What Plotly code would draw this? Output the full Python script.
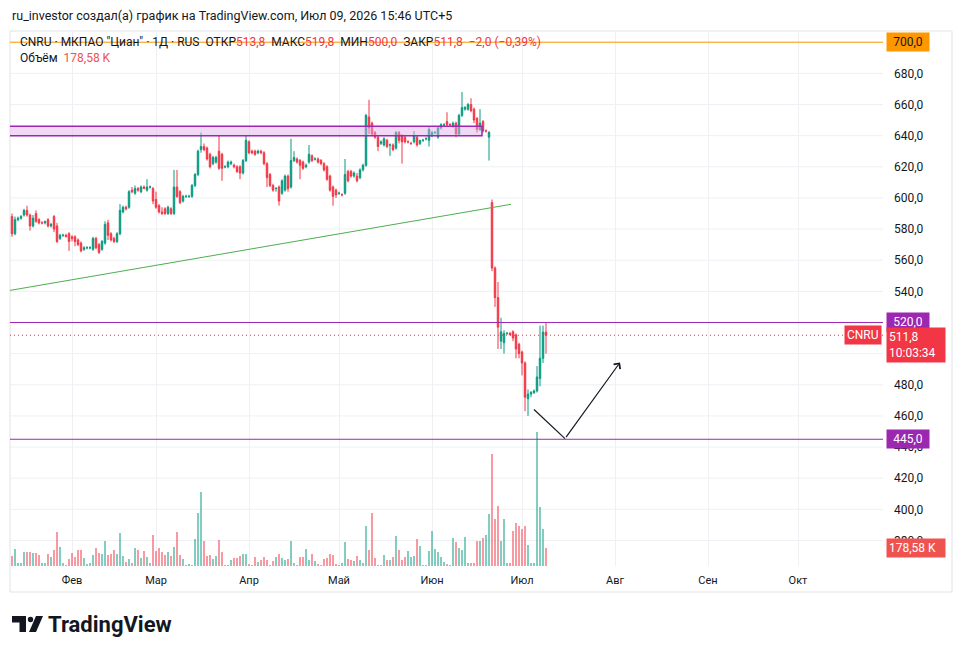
import plotly.graph_objects as go
import pandas as pd

# ---------------- data ----------------
dates = pd.date_range("2026-01-12", "2026-07-09", freq="D")

open_ = [
    588, 577, 586, 587, 589, 592, 589,
    582, 590, 586, 584, 584, 586, 582,
    588, 582, 574, 576, 576, 577, 575,
    575, 573, 571, 567, 568, 568, 567,
    574, 570, 567, 571, 584, 577, 574,
    572, 577, 591, 594, 594, 605, 603,
    606, 604, 607, 605, 607, 606, 599,
    595, 591, 593, 590, 593, 590, 607,
    604, 598, 601, 601, 601, 608, 615,
    631, 633, 632, 628, 622, 623, 630,
    628, 620, 620, 622, 621, 620, 620,
    616, 624, 636, 630, 630, 629, 630,
    629, 622, 615, 608, 606, 607, 603,
    605, 614, 607, 624, 625, 624, 623,
    620, 623, 627, 625, 625, 624, 622,
    620, 614, 607, 605, 603, 602, 603,
    617, 617, 614, 614, 613, 618, 621,
    652, 648, 642, 639, 635, 634, 637,
    634, 634, 632, 642, 640, 639, 636,
    635, 636, 639, 635, 637, 638, 637,
    640, 642, 639, 645, 647, 649, 647,
    646, 648, 641, 653, 657, 657, 660,
    657, 651, 644, 649, 643, 639, 597,
    555, 536, 508, 507, 513, 513, 514,
    512, 506, 501, 494, 471, 474, 475,
    476, 484, 497, 513.8,
]
high = [
    590, 588, 588, 589, 593, 595, 590,
    589, 592, 587, 585, 585, 587, 584,
    589, 584, 577, 577, 577, 578, 576,
    576, 574, 572, 569, 569, 569, 575,
    575, 571, 573, 585, 586, 578, 575,
    578, 596, 595, 595, 605, 607, 608,
    607, 608, 608, 612, 608, 607, 604,
    596, 594, 594, 595, 594, 618, 618,
    605, 602, 602, 602, 609, 616, 631,
    642, 635, 633, 629, 627, 627, 640,
    629, 621, 624, 624, 622, 621, 621,
    625, 640, 637, 631, 631, 631, 631,
    630, 623, 616, 609, 607, 608, 612,
    615, 615, 638, 630, 626, 625, 624,
    622, 634, 628, 626, 626, 625, 623,
    621, 615, 608, 606, 604, 603, 625,
    618, 618, 617, 616, 619, 622, 654,
    663, 649, 643, 640, 637, 639, 638,
    635, 635, 643, 643, 641, 640, 637,
    636, 643, 640, 637, 638, 639, 646,
    643, 643, 646, 648, 648, 655, 648,
    649, 649, 654, 668, 659, 661, 664,
    658, 652, 657, 650, 644, 643, 599,
    556, 546, 523, 515, 514, 514, 515,
    513, 507, 502, 495, 477, 476, 477,
    492, 518, 518, 519.8,
]
low = [
    575, 576, 585, 586, 588, 588, 579,
    581, 584, 583, 583, 583, 581, 581,
    578, 571, 573, 575, 575, 566, 572,
    569, 569, 565, 566, 567, 567, 566,
    567, 564, 566, 570, 573, 572, 571,
    571, 576, 590, 592, 593, 603, 602,
    604, 603, 606, 604, 606, 596, 593,
    590, 589, 589, 589, 589, 589, 600,
    596, 597, 600, 600, 600, 607, 614,
    629, 630, 624, 619, 621, 622, 618,
    611, 619, 619, 621, 619, 616, 612,
    615, 623, 628, 628, 627, 628, 628,
    621, 607, 607, 604, 604, 595, 602,
    604, 604, 606, 623, 622, 612, 618,
    619, 622, 623, 624, 622, 621, 617,
    611, 604, 595, 600, 602, 601, 602,
    610, 613, 613, 610, 612, 617, 620,
    641, 640, 638, 630, 634, 633, 632,
    627, 630, 631, 635, 622, 635, 635,
    634, 635, 633, 634, 636, 637, 633,
    639, 641, 638, 644, 646, 646, 646,
    645, 639, 640, 652, 656, 656, 655,
    648, 642, 643, 642, 642, 624, 553,
    530, 503, 503, 500, 512, 512, 508,
    497, 497, 486, 463, 460, 472, 474,
    475, 479, 494, 500,
]
close = [
    577, 586, 587, 588, 592, 589, 582,
    587, 585, 584, 584, 585, 582, 583,
    580, 572, 576, 576, 575, 572, 574,
    572, 570, 566, 568, 568, 568, 574,
    568, 565, 572, 583, 576, 573, 572,
    577, 592, 594, 593, 604, 604, 606,
    605, 607, 606, 607, 607, 598, 594,
    591, 590, 590, 594, 590, 607, 601,
    597, 601, 601, 601, 608, 615, 630,
    633, 631, 625, 620, 626, 626, 619,
    619, 620, 623, 623, 620, 617, 616,
    624, 637, 629, 629, 628, 630, 629,
    622, 613, 608, 605, 606, 598, 611,
    614, 606, 624, 626, 623, 621, 619,
    621, 628, 624, 625, 623, 622, 618,
    612, 605, 601, 602, 603, 602, 615,
    611, 614, 616, 611, 618, 621, 653,
    645, 641, 639, 633, 636, 638, 633,
    634, 631, 642, 637, 636, 636, 636,
    635, 640, 634, 637, 637, 638, 644,
    642, 642, 645, 647, 647, 647, 647,
    648, 641, 653, 658, 658, 660, 656,
    650, 644, 648, 643, 643, 642, 555,
    536, 517, 514, 513, 513, 512, 510,
    503, 500, 494, 472, 474, 475, 476,
    485, 497, 513.8, 511.8,
]
volume_k = [
    99, 172, 26, 26, 139, 139, 139,
    132, 125, 106, 26, 26, 119, 92,
    158, 337, 185, 26, 13, 70, 132,
    86, 158, 158, 79, 20, 26, 106,
    178, 132, 119, 244, 106, 120, 158,
    119, 330, 99, 40, 66, 33, 178,
    158, 79, 145, 86, 26, 304, 150,
    178, 139, 106, 139, 99, 185, 337,
    106, 73, 13, 20, 13, 271, 521,
    733, 244, 99, 112, 66, 99, 257,
    139, 13, 13, 60, 79, 79, 99,
    119, 119, 20, 13, 86, 40, 59,
    86, 59, 13, 53, 86, 120, 79,
    59, 73, 244, 26, 13, 86, 86,
    172, 59, 119, 53, 15, 13, 73,
    79, 119, 112, 20, 13, 26, 238,
    66, 59, 46, 99, 60, 33, 396,
    158, 521, 79, 13, 13, 106, 59,
    59, 90, 297, 158, 59, 86, 152,
    86, 99, 264, 198, 13, 13, 145,
    343, 172, 139, 86, 40, 20, 13,
    277, 238, 178, 158, 284, 26, 26,
    26, 244, 244, 277, 304, 515, 1110,
    462, 594, 244, 462, 26, 26, 343,
    422, 396, 363, 400, 211, 26, 26,
    1330, 581, 363, 178.58,
]

# tick labels shown on the price scale (500 is hidden by the price tag in the reference)
price_ticks = [380, 400, 420, 440, 460, 480, 520, 540, 560, 580,
               600, 620, 640, 660, 680, 700]
grid_prices = [380, 400, 420, 440, 460, 480, 500, 520, 540, 560, 580,
               600, 620, 640, 660, 680, 700]
month_ticks = ["2026-02-01", "2026-03-01", "2026-04-01", "2026-05-01", "2026-06-01",
               "2026-07-01", "2026-08-01", "2026-09-01", "2026-10-01"]
month_labels = ["Фев", "Мар", "Апр", "Май", "Июн", "Июл", "Авг", "Сен", "Окт"]

level_orange = 700.0
level_purple = [520.0, 445.0]
zone_low, zone_high = 640.0, 646.0
zone_end = "2026-06-17 16:00"
trend_pts = [("2026-01-11 08:00", 540.6), ("2026-06-27 08:00", 595.9)]
arrow_pts = [("2026-07-05", 464.1), ("2026-07-15 08:00", 445.4), ("2026-08-02 16:00", 494.3)]
countdown = "10:03:34"

# ---------------- style ----------------
UP = "#089981"
DN = "#f23645"
UP_V = "rgba(8,153,129,0.5)"
DN_V = "rgba(242,54,69,0.5)"
PURPLE = "#9c27b0"
ORANGE = "#ff9800"
TXT = "#131722"
GRID = "#eef0f4"
FONT = "Roboto"

W, H = 961, 654
PL, PR, PT, PB = 10, 883, 31, 566
Y_RANGE = [363.6, 707.2]
last_vol_px = 18.0
VOL_TOP = volume_k[-1] * 1000 * (PB - PT) / last_vol_px


def px_x(px):
    return (px - PL) / (PR - PL)


def px_y(py):
    return (PB - py) / (PB - PT)


def fmt(v, nd=1):
    return f"{v:.{nd}f}".replace(".", ",").replace("-", "\u2212")


vol_colors = [UP_V if c >= o else DN_V for o, c in zip(open_, close)]

fig = go.Figure()
fig.add_trace(go.Bar(
    x=dates, y=[v * 1000 for v in volume_k], marker=dict(color=vol_colors, line=dict(width=0)),
    width=0.62 * 86400000, yaxis="y2", hoverinfo="skip", showlegend=False,
))
fig.add_trace(go.Candlestick(
    x=dates, open=open_, high=high, low=low, close=close,
    increasing=dict(line=dict(color=UP, width=1), fillcolor=UP),
    decreasing=dict(line=dict(color=DN, width=1), fillcolor=DN),
    whiskerwidth=0, showlegend=False, hoverinfo="skip",
))

shapes = []
# horizontal grid lines (all price steps, including the one whose label is hidden)
for gp in grid_prices:
    shapes.append(dict(type="line", xref="paper", yref="y", x0=0, x1=1, y0=gp, y1=gp,
                       line=dict(color=GRID, width=1), layer="below"))
# chart frame
shapes.append(dict(type="rect", xref="paper", yref="paper", x0=px_x(10), x1=px_x(952),
                   y0=px_y(592), y1=px_y(31), line=dict(color="#e0e3eb", width=1),
                   fillcolor="rgba(0,0,0,0)", layer="below"))
# zone rectangle
shapes.append(dict(type="rect", xref="x", yref="y", x0="2025-12-01", x1=zone_end,
                   y0=zone_low, y1=zone_high, fillcolor="rgba(225,170,235,0.45)",
                   line=dict(color=PURPLE, width=1.5), layer="above"))
# trend line
shapes.append(dict(type="line", xref="x", yref="y", x0=trend_pts[0][0], y0=trend_pts[0][1],
                   x1=trend_pts[1][0], y1=trend_pts[1][1], line=dict(color="#4caf50", width=1)))
# horizontal levels
shapes.append(dict(type="line", xref="paper", yref="y", x0=0, x1=1, y0=level_orange, y1=level_orange,
                   line=dict(color=ORANGE, width=1)))
for lv in level_purple:
    shapes.append(dict(type="line", xref="paper", yref="y", x0=0, x1=1, y0=lv, y1=lv,
                       line=dict(color=PURPLE, width=1)))
shapes.append(dict(type="line", xref="paper", yref="y", x0=0, x1=1, y0=close[-1], y1=close[-1],
                   line=dict(color=DN, width=1, dash="1px,3px")))
# arrow first leg
shapes.append(dict(type="line", xref="x", yref="y", x0=arrow_pts[0][0], y0=arrow_pts[0][1],
                   x1=arrow_pts[1][0], y1=arrow_pts[1][1], line=dict(color=TXT, width=1.2)))


# TradingView logo (drawn)
def ppath(points):
    return "M " + " L ".join(f"{px_x(a):.5f},{px_y(b):.5f}" for a, b in points) + " Z"


shapes.append(dict(type="path", xref="paper", yref="paper",
                   path=ppath([(12, 616), (26, 616), (26, 632), (19.5, 632), (19.5, 622.5), (12, 622.5)]),
                   fillcolor=TXT, line=dict(width=0)))
shapes.append(dict(type="circle", xref="paper", yref="paper",
                   x0=px_x(27.8), x1=px_x(33.2), y0=px_y(622.2), y1=px_y(616.8),
                   fillcolor=TXT, line=dict(width=0)))
shapes.append(dict(type="path", xref="paper", yref="paper",
                   path=ppath([(29, 632), (36, 616), (43, 616), (36, 632)]),
                   fillcolor=TXT, line=dict(width=0)))

annotations = []
# header
annotations.append(dict(xref="paper", yref="paper", x=px_x(10), y=px_y(15), xanchor="left",
                        yanchor="middle", showarrow=False,
                        text="ru_investor создал(а) график на TradingView.com, Июл 09, 2026 15:46 UTC+5",
                        font=dict(family=FONT, size=12.5, color=TXT)))
chg = close[-1] - close[-2]
pct = chg / close[-2] * 100
sp = "\u00a0"


def red(t):
    return f'<span style="color:{DN}">{t}</span>'


legend1 = (f'CNRU · МКПАО "Циан" · 1Д · RUS{sp}{sp}ОТКР{red(fmt(open_[-1]))}{sp}{sp}'
           f'МАКС{red(fmt(high[-1]))}{sp}{sp}МИН{red(fmt(low[-1]))}{sp}{sp}'
           f'ЗАКР{red(fmt(close[-1]))}{sp}{sp}{red(fmt(chg) + " (" + fmt(pct, 2) + "%)")}')
annotations.append(dict(xref="paper", yref="paper", x=px_x(18), y=px_y(42), xanchor="left",
                        yanchor="middle", showarrow=False, text=legend1,
                        font=dict(family=FONT, size=12, color=TXT)))
annotations.append(dict(xref="paper", yref="paper", x=px_x(18), y=px_y(58), xanchor="left",
                        yanchor="middle", showarrow=False,
                        text=f'Объём{sp}{sp}<span style="color:#ef5350">{fmt(volume_k[-1], 2)}{sp}K</span>',
                        font=dict(family=FONT, size=12, color=TXT)))


# right-side labels
def side_label(y, text, bg, fg="white", yref="y"):
    return dict(xref="paper", yref=yref, x=px_x(886), y=y, xanchor="left", yanchor="middle",
                showarrow=False, text=text, bgcolor=bg, borderpad=2, width=38, align="center",
                font=dict(family=FONT, size=12, color=fg))


annotations.append(side_label(level_orange, fmt(level_orange), ORANGE, fg=TXT))
for lv in level_purple:
    annotations.append(side_label(lv, fmt(lv), PURPLE))
annotations.append(dict(xref="paper", yref="y", x=px_x(886), y=close[-1], xanchor="left",
                        yanchor="top", yshift=8, showarrow=False,
                        text=f"{fmt(close[-1])}<br>{countdown}", bgcolor=DN, borderpad=2,
                        width=54, align="left", font=dict(family=FONT, size=12, color="white")))
annotations.append(dict(xref="paper", yref="y", x=px_x(882), y=close[-1], xanchor="right",
                        yanchor="middle", showarrow=False, text="CNRU", bgcolor=DN, borderpad=2,
                        font=dict(family=FONT, size=12, color="white")))
annotations.append(dict(xref="paper", yref="y2", x=px_x(886), y=volume_k[-1] * 1000, xanchor="left",
                        yanchor="middle", showarrow=False, text=f"{fmt(volume_k[-1], 2)}{sp}K",
                        bgcolor="#ef5350", borderpad=2, width=54, align="left",
                        font=dict(family=FONT, size=12, color="white")))
# arrow head leg
annotations.append(dict(xref="x", yref="y", x=arrow_pts[2][0], y=arrow_pts[2][1],
                        axref="x", ayref="y", ax=arrow_pts[1][0], ay=arrow_pts[1][1],
                        showarrow=True, arrowhead=4, arrowsize=1.3, arrowwidth=1.2,
                        arrowcolor=TXT, text=""))
# logo word
annotations.append(dict(xref="paper", yref="paper", x=px_x(46), y=px_y(624.5), xanchor="left",
                        yanchor="middle", showarrow=False, text="<b>TradingView</b>",
                        font=dict(family=FONT, size=22, color=TXT)))

fig.update_layout(
    width=W, height=H,
    margin=dict(l=PL, r=W - PR, t=PT, b=H - PB),
    paper_bgcolor="white", plot_bgcolor="white",
    separators=", ",
    showlegend=False,
    hovermode=False,
    bargap=0,
    xaxis=dict(type="date", range=["2026-01-11 08:00", "2026-10-29 08:00"],
               tickvals=month_ticks, ticktext=month_labels, showgrid=True, gridcolor=GRID,
               gridwidth=1, zeroline=False, showline=False, ticks="",
               tickfont=dict(family=FONT, size=11, color=TXT), ticklabelstandoff=6,
               rangeslider=dict(visible=False), fixedrange=True),
    yaxis=dict(side="right", range=Y_RANGE, tickvals=price_ticks, tickformat=".1f",
               showgrid=False, zeroline=False, showline=False,
               ticks="", ticklabelstandoff=10, tickfont=dict(family=FONT, size=12, color=TXT),
               fixedrange=True),
    yaxis2=dict(overlaying="y", range=[0, VOL_TOP], visible=False, showgrid=False,
                fixedrange=True),
    shapes=shapes,
    annotations=annotations,
)

fig.write_html("out.html", config={"displayModeBar": False, "staticPlot": True})
